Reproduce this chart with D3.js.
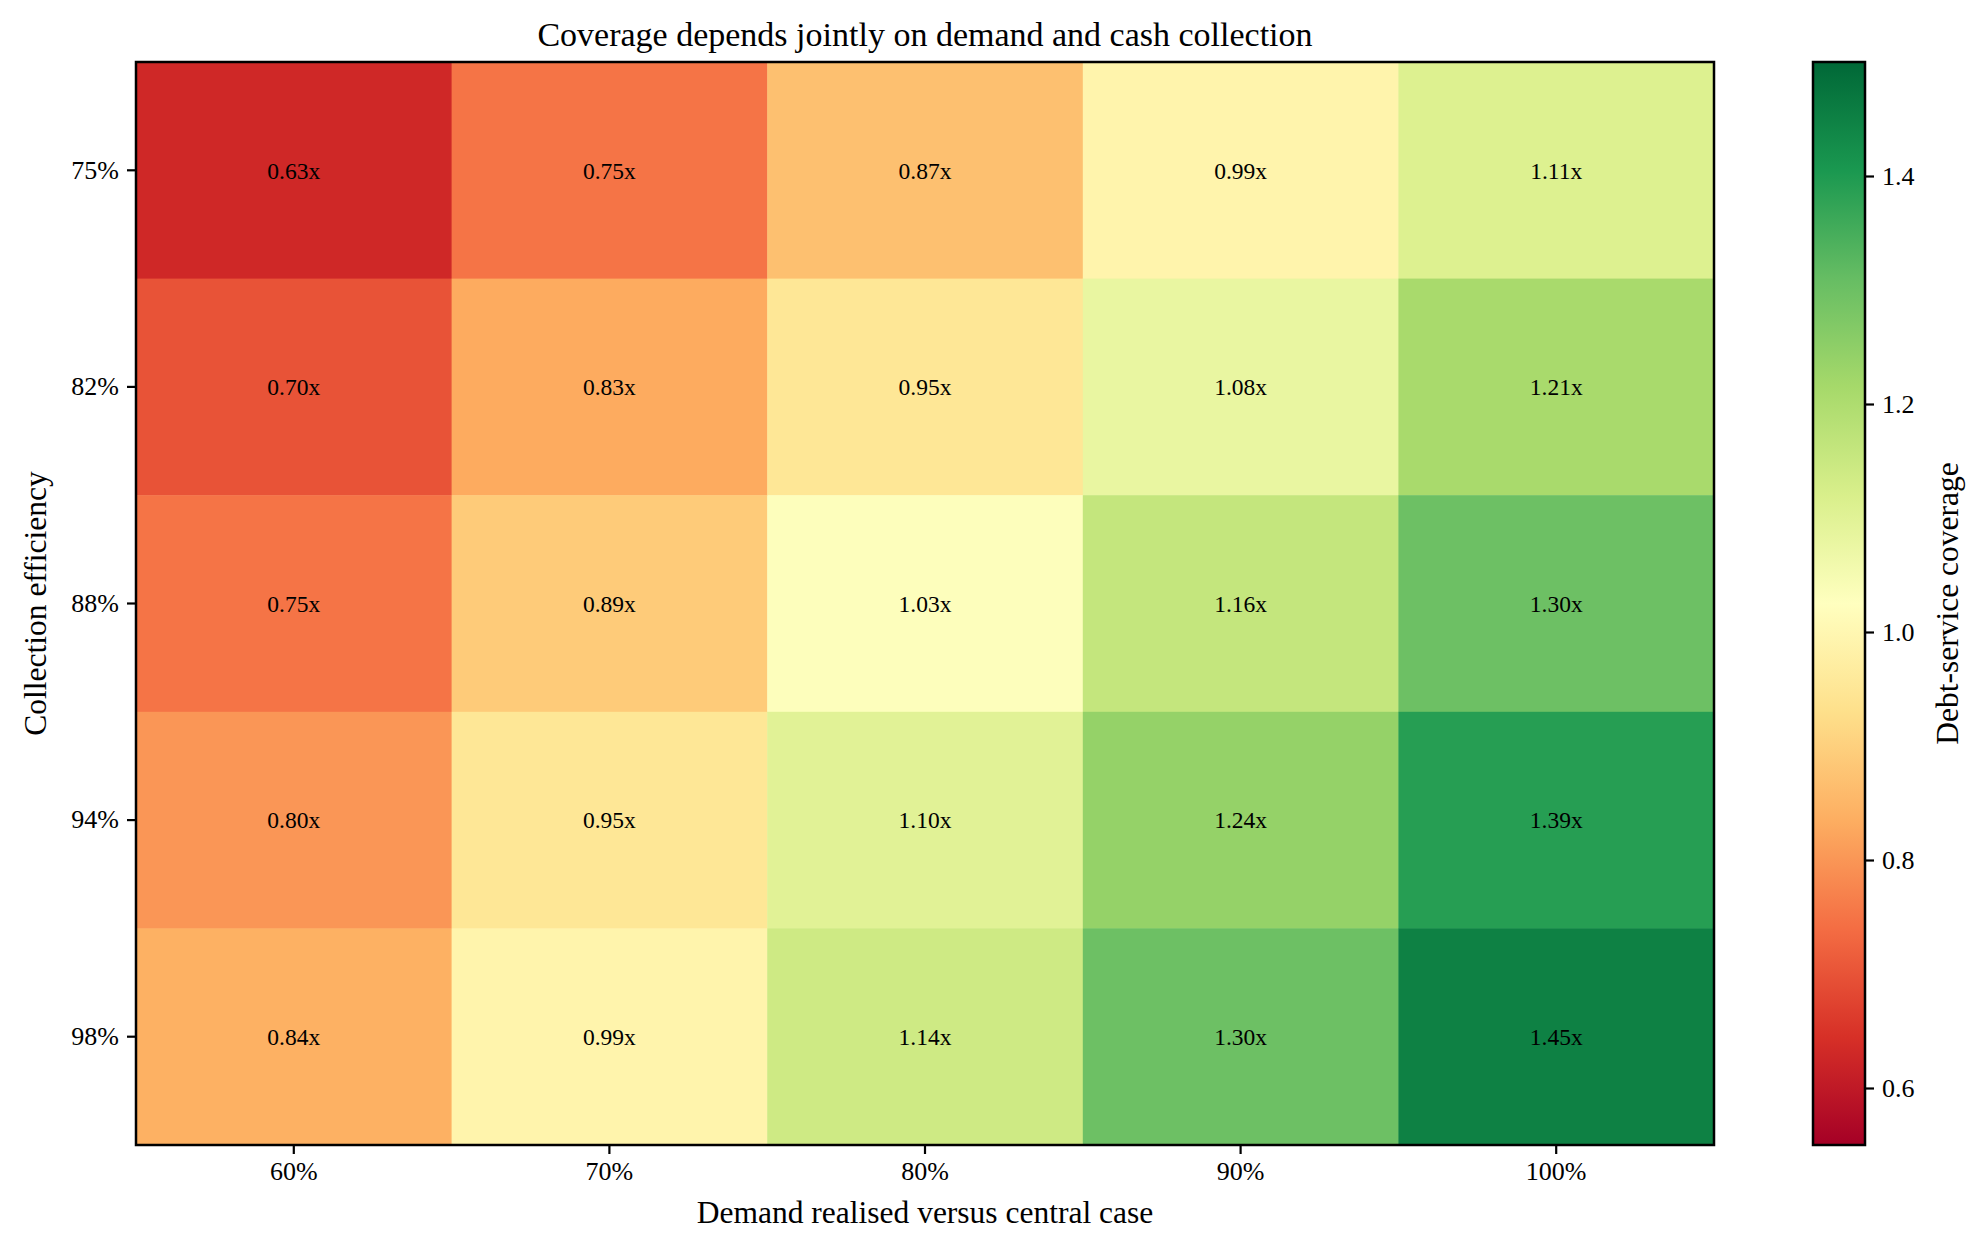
<!DOCTYPE html>
<html>
<head>
<meta charset="utf-8">
<script src="https://cdn.jsdelivr.net/npm/d3@7"></script>
<style>
  body { margin: 0; background: #fff; }
  text { font-family: "Liberation Serif", "DejaVu Serif", serif; fill: #000; }
</style>
</head>
<body>
<div id="chart"></div>
<script>
// demand realised (columns) and collection efficiency (rows)
var demandLabels = ["60%", "70%", "80%", "90%", "100%"];
var collectionLabels = ["75%", "82%", "88%", "94%", "98%"];

// debt-service coverage, one array per collection row
var cov75 = [0.63, 0.75, 0.87, 0.99, 1.11];
var cov82 = [0.70, 0.83, 0.95, 1.08, 1.21];
var cov88 = [0.75, 0.89, 1.03, 1.16, 1.30];
var cov94 = [0.80, 0.95, 1.10, 1.24, 1.39];
var cov98 = [0.84, 0.99, 1.14, 1.30, 1.45];

var colorTicks = [0.6, 0.8, 1.0, 1.2, 1.4];
var colorDomain = [0.55, 1.5];

var rows = [cov75, cov82, cov88, cov94, cov98];

var width = 1986, height = 1253;
var margin = {top: 62, left: 136, right: 272, bottom: 108};
var plotW = width - margin.left - margin.right,
    plotH = height - margin.top - margin.bottom;

// RdYlGn, linear between the brewer stops (like matplotlib)
var rdylgn = ["#a50026","#d73027","#f46d43","#fdae61","#fee08b","#ffffbf",
              "#d9ef8b","#a6d96a","#66bd63","#1a9850","#006837"];
var color = d3.scaleLinear()
  .domain(d3.range(rdylgn.length).map(function(i){
    return colorDomain[0] + i * (colorDomain[1] - colorDomain[0]) / (rdylgn.length - 1);
  }))
  .range(rdylgn)
  .interpolate(d3.interpolateRgb)
  .clamp(true);

var svg = d3.select("#chart").append("svg")
  .attr("width", width)
  .attr("height", height);

var g = svg.append("g")
  .attr("transform", "translate(" + margin.left + "," + margin.top + ")");

var x = d3.scaleBand().domain(demandLabels).range([0, plotW]);
var y = d3.scaleBand().domain(collectionLabels).range([0, plotH]);

var cells = [];
rows.forEach(function(r, i){
  r.forEach(function(v, j){
    cells.push({row: collectionLabels[i], col: demandLabels[j], value: v});
  });
});

g.selectAll("rect.cell")
  .data(cells)
  .enter()
  .append("rect")
  .attr("class", "cell")
  .attr("x", function(d){ return x(d.col); })
  .attr("y", function(d){ return y(d.row); })
  .attr("width", x.bandwidth() + 0.5)
  .attr("height", y.bandwidth() + 0.5)
  .style("fill", function(d){ return color(d.value); });

g.selectAll("text.val")
  .data(cells)
  .enter()
  .append("text")
  .attr("class", "val")
  .attr("x", function(d){ return x(d.col) + x.bandwidth() / 2; })
  .attr("y", function(d){ return y(d.row) + y.bandwidth() / 2; })
  .attr("dy", "0.35em")
  .style("text-anchor", "middle")
  .style("font-size", "23.5px")
  .text(function(d){ return d.value.toFixed(2) + "x"; });

// axes
var xAxis = g.append("g")
  .attr("transform", "translate(0," + plotH + ")")
  .call(d3.axisBottom(x).tickSize(9).tickPadding(8));
var yAxis = g.append("g")
  .call(d3.axisLeft(y).tickSize(9).tickPadding(8));

[xAxis, yAxis].forEach(function(a){
  a.select(".domain").remove();
  a.selectAll("line").style("stroke", "#000").style("stroke-width", 2.2);
  a.selectAll("text").style("font-size", "26px").style("font-family", "Liberation Serif");
});

g.append("rect")
  .attr("width", plotW)
  .attr("height", plotH)
  .style("fill", "none")
  .style("stroke", "#000")
  .style("stroke-width", 2.5);

svg.append("text")
  .attr("x", margin.left + plotW / 2)
  .attr("y", 46)
  .style("text-anchor", "middle")
  .style("font-size", "34px")
  .text("Coverage depends jointly on demand and cash collection");

svg.append("text")
  .attr("x", margin.left + plotW / 2)
  .attr("y", 1223)
  .style("text-anchor", "middle")
  .style("font-size", "31.5px")
  .text("Demand realised versus central case");

svg.append("text")
  .attr("transform", "translate(46," + (margin.top + plotH / 2) + ") rotate(-90)")
  .style("text-anchor", "middle")
  .style("font-size", "31.5px")
  .text("Collection efficiency");

// colorbar
var cbX = 1813, cbW = 52;
var cbScale = d3.scaleLinear().domain(colorDomain).range([margin.top + plotH, margin.top]);

var defs = svg.append("defs");
var grad = defs.append("linearGradient")
  .attr("id", "cbgrad")
  .attr("x1", 0).attr("y1", 1).attr("x2", 0).attr("y2", 0);
grad.selectAll("stop")
  .data(color.domain())
  .enter()
  .append("stop")
  .attr("offset", function(d){ return (d - colorDomain[0]) / (colorDomain[1] - colorDomain[0]); })
  .attr("stop-color", function(d){ return color(d); });

svg.append("rect")
  .attr("x", cbX)
  .attr("y", margin.top)
  .attr("width", cbW)
  .attr("height", plotH)
  .style("fill", "url(#cbgrad)")
  .style("stroke", "#000")
  .style("stroke-width", 2.5);

var cbAxis = svg.append("g")
  .attr("transform", "translate(" + (cbX + cbW) + ",0)")
  .call(d3.axisRight(cbScale).tickValues(colorTicks).tickFormat(d3.format(".1f")).tickSize(9).tickPadding(8));
cbAxis.select(".domain").remove();
cbAxis.selectAll("line").style("stroke", "#000").style("stroke-width", 2.2);
cbAxis.selectAll("text").style("font-size", "26px").style("font-family", "Liberation Serif");

svg.append("text")
  .attr("transform", "translate(1958," + (margin.top + plotH / 2) + ") rotate(-90)")
  .style("text-anchor", "middle")
  .style("font-size", "31.5px")
  .text("Debt-service coverage");
</script>
</body>
</html>
